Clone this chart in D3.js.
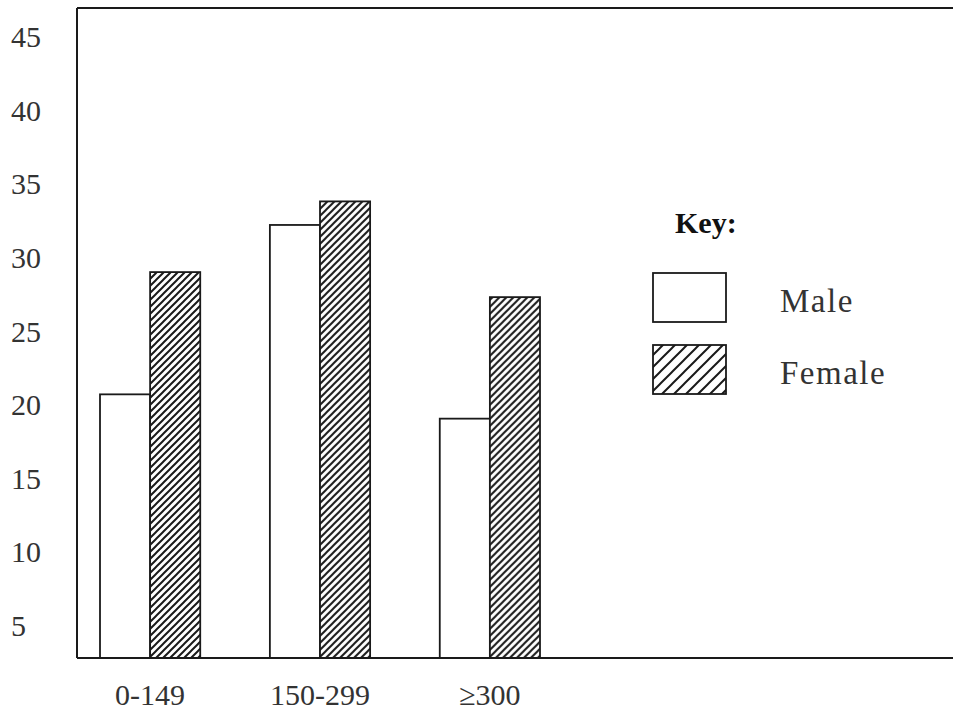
<!DOCTYPE html>
<html><head><meta charset="utf-8">
<script src="https://cdn.jsdelivr.net/npm/d3@7"></script>
<style>body{margin:0;background:#fff}svg{display:block}</style>
</head><body>
<script>
const categories = ["0-149", "150-299", "\u2265300"];
const seriesNames = ["Male", "Female"];
const maleValues = [20.7, 32.2, 19.05];
const femaleValues = [29.0, 33.8, 27.3];
const yTicks = [5, 10, 15, 20, 25, 30, 35, 40, 45];

(function () {
const W = 953, H = 712;
const svg = d3.select("body").append("svg").attr("width", W).attr("height", H);
const defs = svg.append("defs");
function hatch(id, s, sw) {
  const p = defs.append("pattern").attr("id", id).attr("patternUnits", "userSpaceOnUse")
    .attr("width", s).attr("height", s);
  p.append("rect").attr("width", s).attr("height", s).attr("fill", "#fff");
  p.append("path").attr("d", `M${-s/2},${s/2} l${s},${-s} M0,${s} l${s},${-s} M${s/2},${s*1.5} l${s},${-s}`)
    .attr("stroke", "#1a1a1a").attr("stroke-width", sw);
}
hatch("hatchBar", 7, 2);
hatch("hatchKey", 12, 2);

const mLeft = 77, mTop = 8, mBottom = 658;
const y = d3.scaleLinear().domain([2.8, 46.93]).range([mBottom, mTop]);
const x = d3.scaleBand().domain(categories).range([100, 540]).paddingInner(0.41).paddingOuter(0);
const xs = d3.scaleBand().domain(seriesNames).range([0, x.bandwidth()]).padding(0);

const ink = "#1a1a1a";
const font = "'Liberation Serif', 'Times New Roman', serif";

// frame
svg.append("line").attr("x1", mLeft).attr("x2", W).attr("y1", mTop).attr("y2", mTop).attr("stroke", ink).attr("stroke-width", 2);
svg.append("line").attr("x1", mLeft).attr("x2", mLeft).attr("y1", mTop).attr("y2", mBottom).attr("stroke", ink).attr("stroke-width", 2);

// y tick labels
svg.append("g").selectAll("text").data(yTicks).join("text")
  .attr("x", 11).attr("y", d => y(d)).attr("dy", "0.35em")
  .attr("font-family", font).attr("font-size", 30).attr("fill", "#333")
  .text(d => d);

// bars
const data = categories.map((c, i) => ({cat: c, values: [
  {s: "Male", v: maleValues[i]}, {s: "Female", v: femaleValues[i]}]}));
const g = svg.append("g").selectAll("g").data(data).join("g")
  .attr("transform", d => `translate(${x(d.cat)},0)`);
g.selectAll("rect").data(d => d.values).join("rect")
  .attr("x", d => xs(d.s)).attr("width", xs.bandwidth())
  .attr("y", d => y(d.v)).attr("height", d => y(y.domain()[0]) - y(d.v))
  .attr("fill", d => d.s === "Male" ? "#fff" : "url(#hatchBar)")
  .attr("stroke", ink).attr("stroke-width", 1.8);

// baseline
svg.append("line").attr("x1", mLeft).attr("x2", W).attr("y1", mBottom).attr("y2", mBottom).attr("stroke", ink).attr("stroke-width", 2);

// x labels
svg.append("g").selectAll("text").data(categories).join("text")
  .attr("x", d => x(d) + x.bandwidth() / 2).attr("y", 705)
  .attr("text-anchor", "middle")
  .attr("font-family", font).attr("font-size", 30).attr("fill", "#333")
  .text(d => d);

// legend
const lg = svg.append("g");
lg.append("text").attr("x", 675).attr("y", 233).attr("font-family", font)
  .attr("font-size", 30).attr("font-weight", "bold").attr("fill", "#111").text("Key:");
seriesNames.forEach((s, i) => {
  const yy = 273 + i * 72;
  lg.append("rect").attr("x", 653).attr("y", yy).attr("width", 73).attr("height", 49)
    .attr("fill", s === "Male" ? "#fff" : "url(#hatchKey)").attr("stroke", ink).attr("stroke-width", 1.8);
  lg.append("text").attr("x", 780).attr("y", yy + 39).attr("font-family", font)
    .attr("font-size", 33).attr("letter-spacing", 1.5).attr("fill", "#333").text(s);
});
})();
</script>
</body></html>
